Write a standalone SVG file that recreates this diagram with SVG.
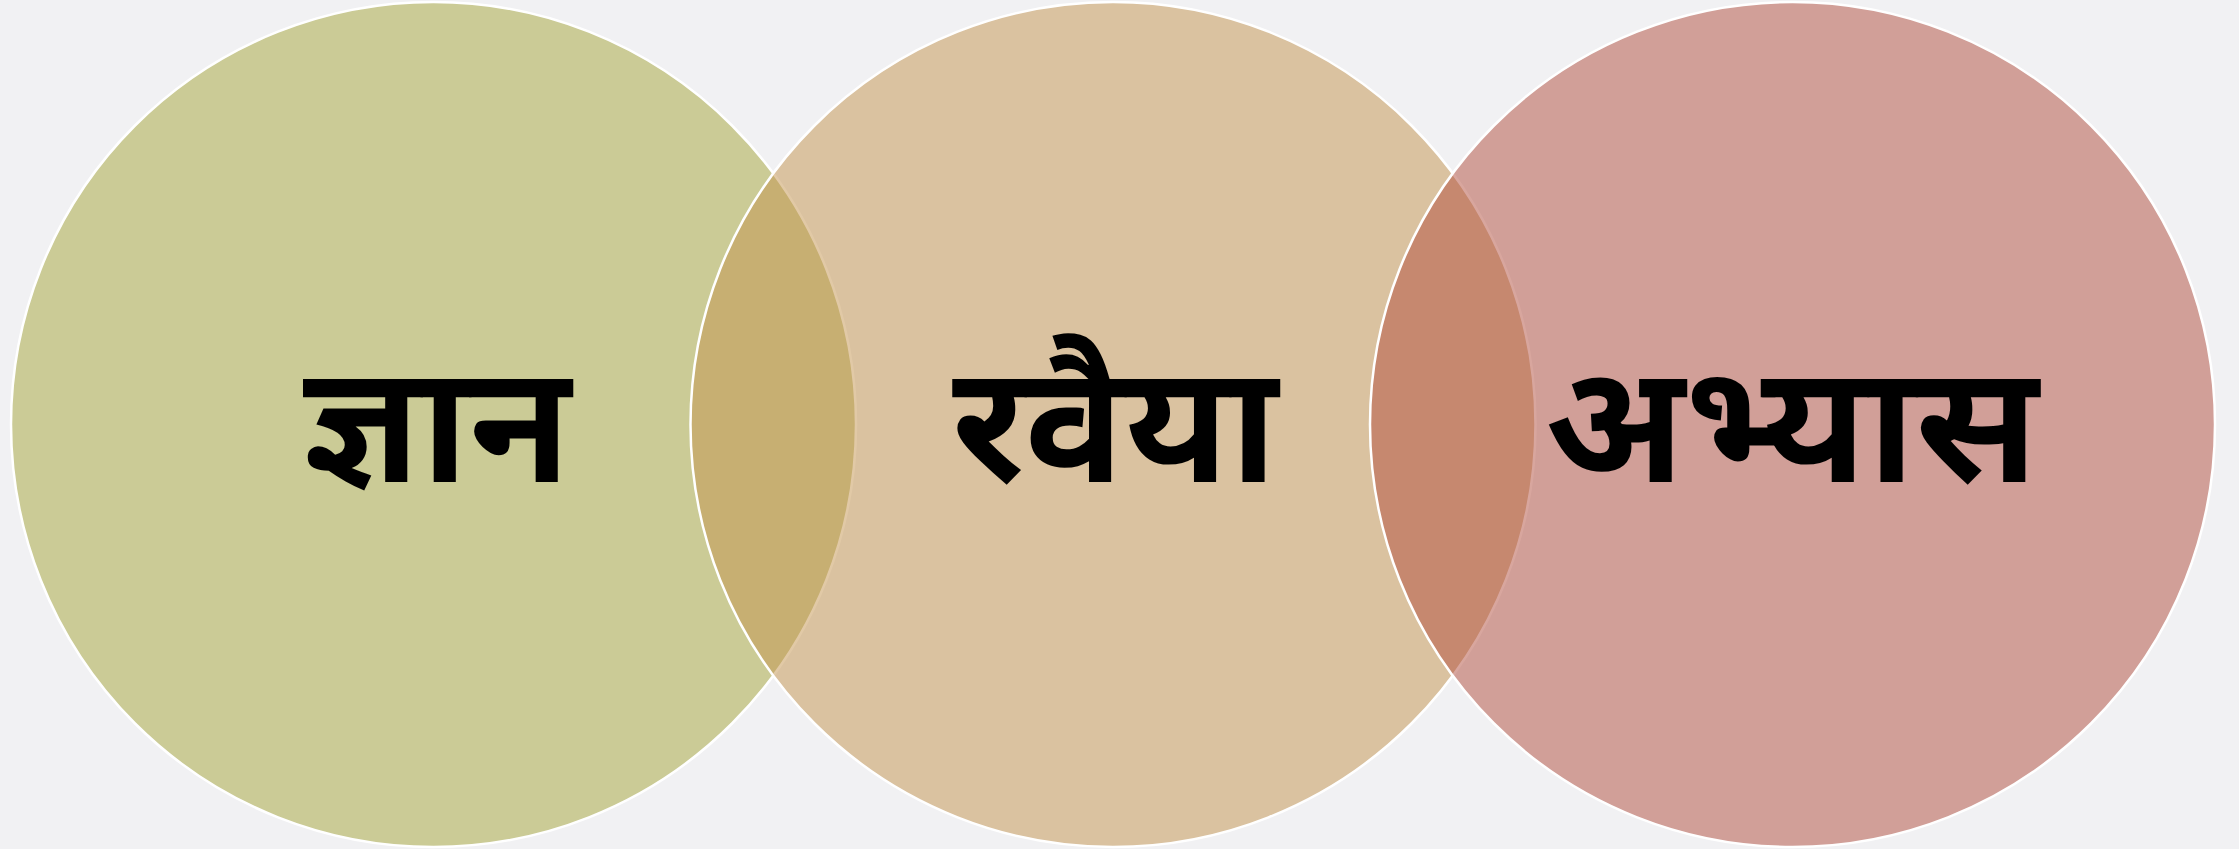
<svg xmlns="http://www.w3.org/2000/svg" width="2239" height="849" viewBox="0 0 2239 849">
<style>
.c{stroke:#ffffff;stroke-width:2.5;fill-opacity:0.5}
.t{font-family:"Noto Sans Devanagari UI","Noto Sans Devanagari","Mukta","Hind","Lohit Devanagari","Noto Sans",sans-serif;font-size:165px;font-weight:bold;fill:#000000;text-anchor:middle}
</style>
<rect x="0" y="0" width="2239" height="849" fill="#f1f1f3"/>
<g id="node-gyan">
<circle class="c" cx="433.5" cy="424.5" r="422.5" fill="#a5a539"/>
</g>
<g id="node-ravaiya">
<circle class="c" cx="1113" cy="424.5" r="422.5" fill="#c3934d"/>
</g>
<g id="node-abhyas">
<circle class="c" cx="1792.5" cy="424.5" r="422.5" fill="#b14d3d"/>
</g>
<g id="labels">
<text class="t" x="437" y="482">ज्ञान</text>
<text class="t" x="1115" y="482">रवैया</text>
<text class="t" x="1792" y="482">अभ्यास</text>
</g>
<g id="connectors"></g>
</svg>
